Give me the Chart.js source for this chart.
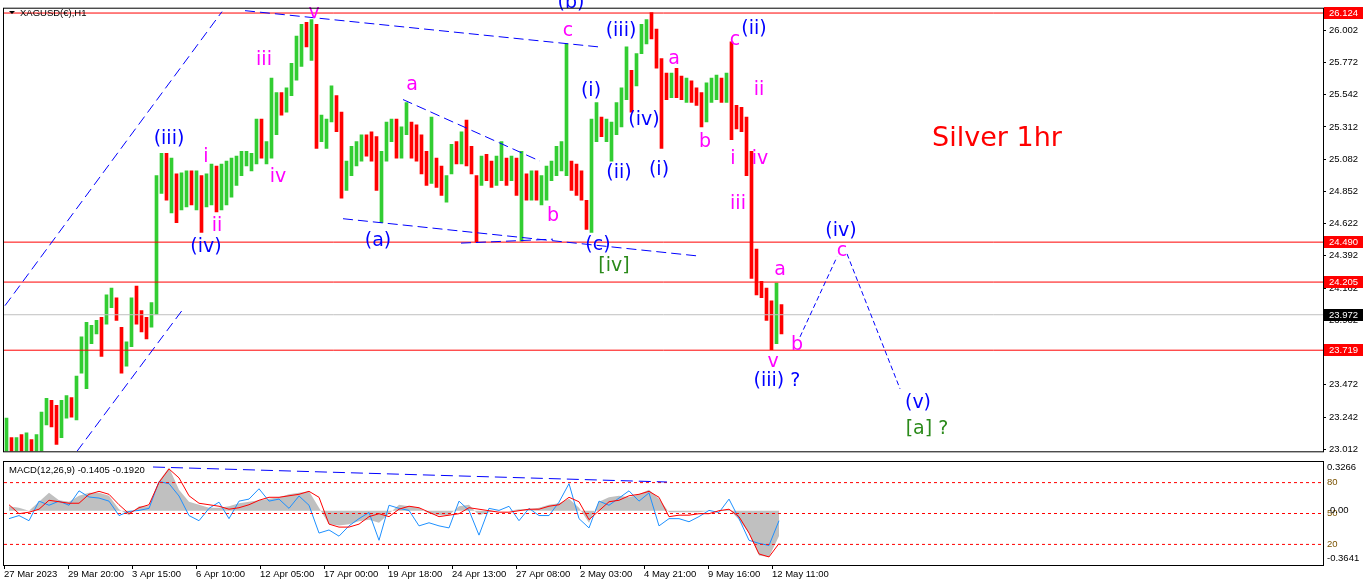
<!DOCTYPE html>
<html><head><meta charset="utf-8">
<script src="https://cdn.jsdelivr.net/npm/chart.js@4.4.0/dist/chart.umd.min.js"></script>
<style>
html,body{margin:0;padding:0;background:#fff;width:1366px;height:588px;overflow:hidden}
#wrap{position:relative;width:1366px;height:588px}
#c1{position:absolute;left:0;top:0}
#c2{position:absolute;left:0;top:460px}
</style></head><body>
<div id="wrap"><canvas id="c1" width="1366" height="460"></canvas><canvas id="c2" width="1366" height="128"></canvas></div>
<script>
// ---------- DATA ----------
const barHours = 5; // each drawn bar = 5 hourly bars
const highs = [23.235,23.096,23.096,23.117,23.130,23.082,23.117,23.277,23.375,23.361,23.326,23.361,23.396,23.382,23.535,23.814,23.918,23.897,23.932,23.953,
24.114,24.162,24.093,23.883,23.779,24.093,24.176,24.002,23.953,24.058,24.964,25.124,25.124,25.089,24.977,24.984,24.998,24.998,24.998,24.964,
24.977,25.047,25.033,25.047,25.068,25.089,25.103,25.138,25.138,25.124,25.368,25.368,25.207,25.660,25.556,25.556,25.591,25.765,25.960,26.044,
26.058,26.078,26.044,25.396,25.368,25.605,25.535,25.417,25.068,25.173,25.207,25.256,25.256,25.277,25.242,25.138,25.347,25.368,25.368,25.312,
25.486,25.347,25.326,25.256,25.138,25.382,25.089,25.033,24.964,25.187,25.207,25.277,25.361,25.173,24.964,25.103,25.117,25.068,25.103,25.207,
25.089,25.103,25.089,25.138,24.977,24.998,24.998,24.964,25.033,25.068,25.173,25.207,25.904,25.068,25.047,24.998,24.789,25.368,25.486,25.382,
25.368,25.347,25.486,25.591,25.883,25.716,25.835,26.044,26.078,26.127,26.009,25.800,25.695,25.695,25.730,25.674,25.660,25.640,25.591,25.556,
25.626,25.660,25.681,25.660,25.695,25.918,25.465,25.451,25.382,25.138,24.441,24.211,24.162,24.072,24.197,24.044];
const lows = [22.977,22.977,22.977,22.977,22.977,22.977,22.977,22.998,23.186,23.172,23.047,23.096,23.235,23.242,23.221,23.556,23.444,23.765,23.835,23.674,
23.904,24.023,23.932,23.556,23.605,23.744,23.904,23.849,23.800,23.883,23.974,24.838,24.789,24.699,24.629,24.720,24.741,24.755,24.720,24.559,
24.741,24.755,24.706,24.720,24.755,24.810,24.894,24.964,25.033,24.998,25.047,25.089,25.047,25.089,25.256,25.396,25.417,25.535,25.646,25.744,
25.883,25.786,25.159,25.207,25.159,25.347,25.277,24.803,24.859,24.964,25.033,25.068,25.103,25.068,24.859,24.629,25.068,25.207,25.089,25.089,
25.256,25.089,25.068,24.977,24.894,24.908,24.880,24.824,24.775,24.977,25.047,25.047,25.033,24.977,24.490,24.894,24.929,24.880,24.894,24.929,
24.894,24.929,24.824,24.497,24.789,24.789,24.789,24.755,24.789,24.929,24.964,24.998,24.964,24.859,24.824,24.789,24.580,24.559,25.207,25.242,
25.207,25.068,25.256,25.312,25.507,25.417,25.605,25.835,25.904,25.939,25.730,25.159,25.507,25.521,25.521,25.507,25.486,25.486,25.465,25.312,
25.347,25.486,25.507,25.486,25.486,25.221,25.298,25.277,24.964,24.232,24.114,24.093,23.932,23.723,23.765,23.835];
const closes = [23.047,23.033,23.061,23.047,23.082,23.033,23.082,23.221,23.312,23.256,23.186,23.312,23.340,23.326,23.521,23.779,23.814,23.849,23.883,23.849,
24.058,24.093,23.953,23.674,23.744,24.058,23.988,23.918,23.883,24.023,24.929,24.964,24.859,24.894,24.824,24.859,24.929,24.824,24.894,24.824,
24.894,24.964,24.824,24.929,24.964,24.998,25.033,25.068,25.082,25.103,25.277,25.138,25.138,25.207,25.486,25.451,25.521,25.730,25.869,25.974,
25.939,26.009,25.277,25.312,25.347,25.521,25.382,24.964,24.998,25.068,25.138,25.207,25.173,25.138,24.964,25.068,25.277,25.312,25.207,25.277,
25.312,25.173,25.138,25.033,24.998,25.033,24.929,24.894,24.929,25.138,25.103,25.173,25.138,25.033,24.929,25.033,24.998,24.964,25.033,25.068,
24.964,25.033,24.894,24.929,24.859,24.929,24.859,24.894,24.998,25.033,25.138,25.173,25.556,24.964,24.894,24.824,24.685,25.312,25.347,25.277,
25.312,25.312,25.417,25.556,25.765,25.660,25.800,25.974,26.009,25.974,25.800,25.626,25.591,25.626,25.591,25.556,25.591,25.556,25.521,25.417,
25.556,25.591,25.626,25.556,25.591,25.417,25.382,25.347,25.033,24.302,24.197,24.162,23.988,23.849,23.988,23.972];

const priceTicks = [26.002,25.772,25.542,25.312,25.082,24.852,24.622,24.392,24.162,23.932,23.702,23.472,23.242,23.012];
const priceMin = 22.998, priceMax = 26.155;
const levelLines = [26.124, 24.490, 24.205, 23.719];
const lastPrice = 23.972;

const timeTickHours = [0,64,128,192,256,320,384,448,512,576,640,704,768];
const timeLabels = ['27 Mar 2023','29 Mar 20:00','3 Apr 15:00','6 Apr 10:00','12 Apr 05:00','17 Apr 00:00','19 Apr 18:00','24 Apr 13:00','27 Apr 08:00','2 May 03:00','4 May 21:00','9 May 16:00','12 May 11:00'];
const xMax = 1319;

// trend lines [hour, price]
const trendLines = [
  [[1,24.037],[218,26.134]],
  [[73,22.998],[178,24.002]],
  [[241,26.141],[594,25.883]],
  [[339,24.657],[693,24.392]],
  [[399,25.507],[536,25.068]],
  [[457,24.483],[549,24.511]]
];
const projection = [
  [[796,23.814],[833,24.385]],
  [[843,24.406],[896,23.444]]
];

// wave labels
const waveText  = ['(iii)','(iv)','(a)','(b)','(c)','(i)','(ii)','(iii)','(iv)','(i)','(ii)','(iv)','(iii) ?','(v)',
                   'i','ii','iii','iv','v','a','b','c','a','b','c','ii','i','iv','iii','a','b','v','c',
                   '[iv]','[a] ?'];
const waveHour  = [165,202,374,567,594,587,615,617,640,655,750,837,773,914,
                   202,213,260,274,310,408,549,564,670,701,731,755,729,756,734,776,793,769,838,
                   610,923];
const wavePrice = [25.228,24.455,24.497,26.192,24.469,25.570,24.984,25.995,25.361,25.005,26.009,24.566,23.500,23.340,
                   25.096,24.608,25.786,24.957,26.127,25.612,24.678,25.995,25.793,25.207,25.932,25.577,25.082,25.082,24.761,24.288,23.758,23.633,24.427,
                   24.322,23.159];
const waveColor = ['blue','blue','blue','blue','blue','blue','blue','blue','blue','blue','blue','blue','blue','blue',
                   'magenta','magenta','magenta','magenta','magenta','magenta','magenta','magenta','magenta','magenta','magenta','magenta','magenta','magenta','magenta','magenta','magenta','magenta','magenta',
                   'green','green'];
const noteText = 'Silver 1hr', noteHour = 993, notePrice = 25.228;

// MACD panel (one value per 10 hourly bars)
const macdStep = 10;
const macdHist = [0.03,0.02,0.00,0.06,0.12,0.07,0.06,0.10,0.12,0.12,0.10,0.01,-0.03,0.03,0.03,0.20,0.29,0.14,0.06,0.04,
0.02,0.02,0.03,0.05,0.06,0.07,0.08,0.09,0.11,0.12,0.13,0.02,-0.09,-0.10,-0.09,-0.07,-0.06,-0.08,-0.02,0.04,
0.03,0.02,-0.02,-0.03,-0.03,0.03,0.04,-0.03,-0.01,0.00,0.00,0.01,0.01,0.02,0.04,0.05,0.08,0.02,-0.08,0.06,
0.09,0.10,0.09,0.11,0.14,0.08,-0.01,-0.01,-0.01,-0.01,0.00,0.00,0.01,-0.06,-0.15,-0.30,-0.31,-0.17];
const macdSignal = [0.04,-0.02,-0.01,0.01,0.07,0.06,0.05,0.05,0.11,0.13,0.11,0.04,-0.02,0.02,0.04,0.19,0.28,0.22,0.10,0.05,
0.04,0.03,0.01,0.02,0.04,0.07,0.09,0.09,0.10,0.11,0.13,0.09,-0.09,-0.11,-0.11,-0.09,-0.04,-0.02,-0.04,0.01,
0.03,0.02,-0.01,-0.04,-0.03,-0.02,0.02,0.01,0.00,-0.01,-0.01,0.00,0.01,0.01,0.03,0.04,0.09,0.06,-0.06,0.00,
0.06,0.07,0.10,0.11,0.13,0.09,-0.04,-0.03,-0.03,-0.02,-0.02,0.00,0.01,-0.04,-0.15,-0.29,-0.31,-0.22];
const oscLine = [45,48,43,62,58,62,58,72,66,65,62,48,52,53,55,81,79,67,48,43,
55,61,45,62,64,74,62,64,55,67,58,31,34,28,38,45,51,24,58,55,
53,38,41,38,36,62,53,29,55,53,57,43,55,48,48,61,79,45,36,62,
58,65,72,62,70,38,45,45,42,47,53,51,64,45,24,21,19,43];
const macdMin = -0.3641, macdMax = 0.3266;
const oscLevels = [80, 50, 20];
const macdTrend = [[149,0.293],[663,0.1925]];
const macdTitle = 'MACD(12,26,9) -0.1405 -0.1920';

// ---------- STYLE ----------
const palette = {blue:'#0000ff', magenta:'#ff00ff', green:'#2b8a1a'};
const upColor = '#32cd32', downColor = '#ff0000';
const smallFont = '"Liberation Sans", Arial, sans-serif';
const waveFont = '19px "DejaVu Sans", Verdana, sans-serif';

function seg(pts, color, dash, axis, order){
  return {type:'line', data:pts.map(p=>({x:p[0], y:p[1]})), borderColor:color, borderWidth:1,
    borderDash:dash, pointRadius:0, fill:false, tension:0, order:order||0, yAxisID:axis||'y'};
}

const candleData = highs.map((h,i)=>({x:i*barHours + barHours/2, y:[lows[i], h]}));
const candleColors = closes.map((c,i)=> c >= (i>0 ? closes[i-1] : c) ? upColor : downColor);

const ds1 = [];
levelLines.forEach(v=>ds1.push(seg([[0,v],[xMax,v]], '#ff0000', [], 'y', 2)));
ds1.push(seg([[0,lastPrice],[xMax,lastPrice]], '#c0c0c0', [], 'y', 3));
trendLines.forEach(t=>ds1.push(seg(t, '#0000ff', [10,5], 'y', 1)));
projection.forEach(t=>ds1.push(seg(t, '#0000ff', [5,3], 'y', 1)));
ds1.push({type:'bar', data:candleData, backgroundColor:candleColors, borderWidth:0, barThickness:3, order:10, clip:0});

const framePlugin = {
  id:'frame',
  afterDraw(chart){
    const {ctx, chartArea:a} = chart;
    ctx.save(); ctx.strokeStyle='#000'; ctx.lineWidth=1;
    ctx.strokeRect(a.left-0.5, a.top-0.5, a.right-a.left+1, a.bottom-a.top+1);
    ctx.restore();
  }
};

const priceDecor = {
  id:'priceDecor',
  afterDatasetsDraw(chart){
    const {ctx} = chart, xs = chart.scales.x, ys = chart.scales.y;
    ctx.save();
    ctx.font = waveFont; ctx.textAlign='center'; ctx.textBaseline='middle';
    waveText.forEach((t,i)=>{
      ctx.fillStyle = palette[waveColor[i]];
      ctx.fillText(t, xs.getPixelForValue(waveHour[i]), ys.getPixelForValue(wavePrice[i]));
    });
    ctx.font = '27px "DejaVu Sans", Verdana, sans-serif'; ctx.fillStyle='#ff0000';
    ctx.fillText(noteText, xs.getPixelForValue(noteHour), ys.getPixelForValue(notePrice));
    ctx.restore();
  },
  afterDraw(chart){
    const {ctx, chartArea:a} = chart, ys = chart.scales.y;
    ctx.save();
    ctx.font = '9.5px ' + smallFont; ctx.textBaseline='middle'; ctx.textAlign='left';
    const box = (v, bg)=>{
      const yp = Math.round(ys.getPixelForValue(v));
      ctx.fillStyle = bg; ctx.fillRect(a.right+1, yp-6, 39, 12);
      ctx.fillStyle = '#fff'; ctx.fillText(v.toFixed(3), a.right+6, yp);
    };
    levelLines.forEach(v=>box(v, '#ff0000'));
    box(lastPrice, '#000000');
    // symbol caption
    ctx.fillStyle='#000';
    ctx.beginPath(); ctx.moveTo(9,11); ctx.lineTo(15,11); ctx.lineTo(12,14); ctx.closePath(); ctx.fill();
    ctx.fillText('XAGUSD(€),H1', 20, 13);
    ctx.restore();
  }
};

new Chart(document.getElementById('c1'), {
  type:'bar',
  data:{datasets:ds1},
  options:{
    responsive:false, animation:false, events:[],
    layout:{padding:{left:4, top:4, right:0, bottom:3}},
    plugins:{legend:{display:false}, tooltip:{enabled:false}},
    scales:{
      x:{type:'linear', min:0, max:xMax, display:false, offset:false},
      y:{type:'linear', position:'right', min:priceMin, max:priceMax,
         afterBuildTicks:s=>{ s.ticks = priceTicks.map(v=>({value:v})); },
         afterFit:s=>{ s.width = 43; },
         ticks:{callback:v=>Number(v).toFixed(3), font:{family:smallFont, size:9.5}, color:'#000', padding:3, autoSkip:false},
         grid:{drawOnChartArea:false, drawTicks:true, tickLength:3, color:'#000'},
         border:{display:false}}
    }
  },
  plugins:[framePlugin, priceDecor]
});

// ---------- MACD ----------
const mx = i => i*macdStep + macdStep/2;
const ds2 = [];
ds2.push(seg(macdTrend, '#0000ff', [12,6], 'y', 0));
oscLevels.forEach(v=>ds2.push(seg([[0,v],[xMax,v]], '#ff0000', [3,3], 'y2', 1)));
ds2.push({type:'line', data:macdSignal.map((v,i)=>({x:mx(i), y:v})), borderColor:'#ff0000', borderWidth:1, pointRadius:0, tension:0, fill:false, order:3, yAxisID:'y'});
ds2.push({type:'line', data:oscLine.map((v,i)=>({x:mx(i), y:v})), borderColor:'#1e90ff', borderWidth:1, pointRadius:0, tension:0, fill:false, order:5, yAxisID:'y2'});
ds2.push({type:'line', data:macdHist.map((v,i)=>({x:mx(i), y:v})), borderColor:'#c0c0c0', borderWidth:0, backgroundColor:'#c0c0c0', pointRadius:0, tension:0, fill:'origin', order:10, yAxisID:'y'});

const macdDecor = {
  id:'macdDecor',
  afterDraw(chart){
    const {ctx, chartArea:a} = chart, ys = chart.scales.y, y2 = chart.scales.y2;
    ctx.save();
    ctx.font = '9.5px ' + smallFont; ctx.textBaseline='middle'; ctx.textAlign='left';
    ctx.fillStyle='#000';
    ctx.fillText(macdTitle, 9, 10);
    const lx = a.right + 4;
    ctx.fillText(macdMax.toFixed(4), lx, a.top + 5);
    ctx.fillText(macdMin.toFixed(4), lx, a.bottom - 7);
    ctx.fillStyle='#7a5200';
    oscLevels.forEach(v=>ctx.fillText(String(v), lx, y2.getPixelForValue(v)));
    ctx.fillStyle='#000';
    ctx.fillText((0).toFixed(2), lx+3, ys.getPixelForValue(0));
    ctx.restore();
  }
};

new Chart(document.getElementById('c2'), {
  type:'line',
  data:{datasets:ds2},
  options:{
    responsive:false, animation:false, events:[],
    layout:{padding:{left:4, top:2, right:0, bottom:0}},
    plugins:{legend:{display:false}, tooltip:{enabled:false}},
    scales:{
      x:{type:'linear', min:0, max:xMax, offset:false,
         afterBuildTicks:s=>{ s.ticks = timeTickHours.map(v=>({value:v})); },
         afterFit:s=>{ s.height = 23; },
         ticks:{callback:(v,i)=>timeLabels[i], align:'start', maxRotation:0, minRotation:0, autoSkip:false, padding:0,
                font:{family:smallFont, size:9.5}, color:'#000'},
         grid:{drawOnChartArea:false, drawTicks:true, tickLength:4, color:'#000'},
         border:{display:false}},
      y:{type:'linear', position:'right', min:macdMin, max:macdMax,
         ticks:{display:false}, grid:{display:false}, border:{display:false},
         afterFit:s=>{ s.width = 43; }},
      y2:{type:'linear', display:false, min:0, max:100}
    }
  },
  plugins:[framePlugin, macdDecor]
});
</script>
</body></html>
